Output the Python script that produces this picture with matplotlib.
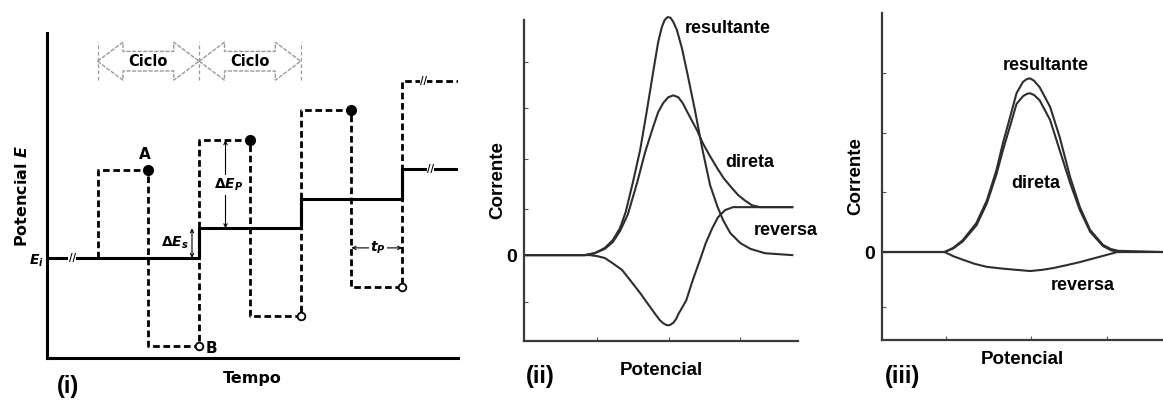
import matplotlib
matplotlib.use('Agg')
import matplotlib.pyplot as plt
from matplotlib.patches import Polygon

plt.rcParams['mathtext.fontset'] = 'custom'
plt.rcParams['mathtext.rm'] = 'DejaVu Sans:bold'
plt.rcParams['mathtext.it'] = 'DejaVu Sans:italic:bold'
plt.rcParams['mathtext.bf'] = 'DejaVu Sans:bold'

narrow = ['Liberation Sans Narrow', 'Liberation Sans', 'DejaVu Sans']

# (i) square-wave waveform: staircase + pulses (time in cycles, E in units of dEs)
stair_t = [0.0, 1.5, 2.5, 3.5, 4.05]
stair_E = [0.0, 1.0, 2.0, 3.0]
pulse_t = [0.5, 1.0, 1.5, 2.0, 2.5, 3.0, 3.5, 4.05]
pulse_E = [2.97, -2.97, 3.97, -1.97, 4.97, -0.97, 5.97]
fwd_dots_t = [1.0, 2.0, 3.0]
fwd_dots_E = [2.97, 3.97, 4.97]
rev_dots_t = [1.5, 2.5, 3.5]
rev_dots_E = [-2.97, -1.97, -0.97]
cycle_edges = [0.5, 1.5, 2.5]

# (ii) reversible system: forward, reverse and net currents
ii_res_x = [-2.01, -1.17, -1.03, -0.89, -0.78, -0.68, -0.60, -0.50, -0.40, -0.31,
            -0.22, -0.15, -0.10, -0.06, -0.02, 0.02, 0.06, 0.11, 0.18, 0.26,
            0.36, 0.46, 0.57, 0.67, 0.75, 0.85, 0.99, 1.13, 1.33, 1.71]
ii_res_y = [0.0, 0.0, 0.04, 0.15, 0.31, 0.56, 0.90, 1.52, 2.19, 2.98,
            3.81, 4.44, 4.75, 4.90, 4.96, 4.95, 4.86, 4.69, 4.31, 3.75,
            3.02, 2.23, 1.46, 1.02, 0.73, 0.46, 0.25, 0.13, 0.04, 0.0]
ii_dir_x = [-2.01, -1.17, -1.03, -0.89, -0.78, -0.68, -0.57, -0.44, -0.33, -0.22, -0.15, -0.08, -0.01,
            0.06, 0.13, 0.19, 0.29, 0.39, 0.47, 0.57, 0.67, 0.76, 0.86, 0.96, 1.06, 1.15, 1.26, 1.71]
ii_dir_y = [0.0, 0.0, 0.04, 0.13, 0.27, 0.50, 0.85, 1.52, 2.15, 2.67, 2.98, 3.17, 3.29,
            3.33, 3.29, 3.17, 2.88, 2.60, 2.33, 2.06, 1.81, 1.60, 1.42, 1.25, 1.13, 1.04, 1.00, 1.00]
ii_rev_x = [-2.01, -1.10, -1.00, -0.89, -0.78, -0.65, -0.54, -0.40, -0.31, -0.19,
            -0.13, -0.08, -0.03, 0.01, 0.06, 0.10, 0.13, 0.18, 0.24, 0.33,
            0.43, 0.51, 0.60, 0.68, 0.78, 0.89, 1.71]
ii_rev_y = [0.0, 0.0, -0.02, -0.06, -0.17, -0.31, -0.52, -0.79, -0.98, -1.23,
            -1.35, -1.42, -1.46, -1.46, -1.41, -1.33, -1.23, -1.10, -0.94, -0.52,
            -0.10, 0.25, 0.56, 0.79, 0.94, 1.00, 1.00]

# (iii) irreversible system
iii_res_x = [-1.86, -1.08, -0.97, -0.85, -0.68, -0.55, -0.43, -0.35, -0.26, -0.18,
             -0.10, -0.05, -0.01, 0.04, 0.11, 0.24, 0.36, 0.49, 0.61, 0.74,
             0.90, 1.00, 1.09, 1.65]
iii_res_y = [0.0, 0.0, 0.07, 0.20, 0.49, 0.87, 1.38, 1.83, 2.27, 2.67,
             2.86, 2.91, 2.92, 2.88, 2.77, 2.44, 1.93, 1.26, 0.76, 0.37,
             0.12, 0.05, 0.02, 0.0]
iii_dir_x = iii_res_x
iii_dir_y = [0.0, 0.0, 0.06, 0.18, 0.45, 0.82, 1.31, 1.71, 2.12, 2.49,
             2.62, 2.66, 2.67, 2.64, 2.55, 2.22, 1.71, 1.16, 0.71, 0.34,
             0.10, 0.03, 0.0, 0.0]
iii_rev_x = [-1.86, -1.08, -0.97, -0.85, -0.70, -0.55, -0.35, -0.18, -0.01, 0.14,
             0.28, 0.45, 0.61, 0.86, 1.08, 1.65]
iii_rev_y = [0.0, 0.0, -0.07, -0.13, -0.20, -0.25, -0.28, -0.30, -0.32, -0.30,
             -0.27, -0.22, -0.17, -0.08, 0.0, 0.0]

fig = plt.figure(figsize=(11.63, 4.01), dpi=100)

# ---------- (i) ----------
ax1 = fig.add_axes([0.0402, 0.1072, 0.3537, 0.8105])
ax1.set_xlim(0, 4.05)
ax1.set_ylim(-3.37, 7.58)
for s in ['top', 'right']:
    ax1.spines[s].set_visible(False)
for s in ['left', 'bottom']:
    ax1.spines[s].set_linewidth(2.2)
ax1.set_xticks([])
ax1.set_yticks([])

ax1.stairs(stair_E, stair_t, color='black', lw=2.2, baseline=None)
ax1.vlines(stair_t[1:-1], stair_E[:-1], stair_E[1:], color='black', lw=2.2)

dash_x = [pulse_t[0]] + pulse_t
dash_y = [stair_E[0]] + pulse_E + [pulse_E[-1]]
ax1.step(dash_x, dash_y, where='post', color='black', lw=2.0, dashes=(2.4, 1.3))
ax1.plot(fwd_dots_t, fwd_dots_E, 'o', color='black', ms=7, zorder=5)
ax1.plot(rev_dots_t, rev_dots_E, 'o', mfc='white', mec='black', mew=1.3, ms=5.5, zorder=5)

# break marks
for bx, by in [(0.25, 0.0), (3.78, 3.0), (3.71, 5.97)]:
    ax1.text(bx, by, '//', fontsize=7, fontweight='bold', ha='center', va='center',
             bbox=dict(fc='white', ec='none', pad=0.2), zorder=6)

# cycle arrows
c_mid, body, head, hl = 6.63, 0.33, 0.64, 0.25
for t0, t1 in zip(cycle_edges[:-1], cycle_edges[1:]):
    verts = [(t0, c_mid), (t0 + hl, c_mid + head), (t0 + hl, c_mid + body), (t1 - hl, c_mid + body),
             (t1 - hl, c_mid + head), (t1, c_mid), (t1 - hl, c_mid - head), (t1 - hl, c_mid - body),
             (t0 + hl, c_mid - body), (t0 + hl, c_mid - head)]
    ax1.add_patch(Polygon(verts, closed=True, fc='white', ec='#9a9a9a', lw=1.0, ls=(0, (3, 1))))
    ax1.text((t0 + t1) / 2, c_mid, 'Ciclo', fontsize=10.5, fontweight='bold', ha='center', va='center')
ax1.vlines(cycle_edges, 6.0, 7.27, color='#9a9a9a', lw=0.9, linestyles=(0, (3, 2)))

ax1.text(0.97, 3.47, 'A', fontsize=11, fontweight='bold', ha='center', va='center')
ax1.text(1.56, -3.05, 'B', fontsize=11, fontweight='bold', ha='left', va='center')
ax1.text(-0.03, -0.1, r'$E_i$', fontsize=10, ha='right', va='center', clip_on=False)

arrow_kw = dict(arrowstyle='<->', lw=0.8, color='black', shrinkA=0, shrinkB=0, mutation_scale=6)
ax1.annotate('', xy=(1.43, 0.0), xytext=(1.43, 1.0), arrowprops=arrow_kw)
ax1.text(1.26, 0.5, r'$\Delta E_s$', fontsize=10, ha='center', va='center')
ax1.annotate('', xy=(1.76, 1.0), xytext=(1.76, 3.97), arrowprops=arrow_kw)
ax1.text(1.79, 2.46, r'$\Delta E_P$', fontsize=10, ha='center', va='center',
         bbox=dict(fc='white', ec='none', pad=1.5))
ax1.annotate('', xy=(3.0, 0.34), xytext=(3.5, 0.34), arrowprops=arrow_kw)
ax1.text(3.26, 0.34, r'$t_P$', fontsize=10, ha='center', va='center',
         bbox=dict(fc='white', ec='none', pad=1.0))

ax1.set_xlabel('Tempo', fontsize=11.5, fontweight='bold', labelpad=9)
ax1.set_ylabel(r'Potencial $E$', fontsize=11.5, fontweight='bold', labelpad=12)
fig.text(0.0585, 0.035, '(i)', fontsize=17, fontweight='bold', family=narrow, ha='center', va='center')


def current_axes(rect, xlim, ylim, xticks, yticks, xpad, ypad):
    ax = fig.add_axes(rect)
    ax.set_xlim(*xlim)
    ax.set_ylim(*ylim)
    for s in ['top', 'right']:
        ax.spines[s].set_visible(False)
    for s in ['left', 'bottom']:
        ax.spines[s].set_linewidth(1.6)
        ax.spines[s].set_color('#3a3a3a')
    ax.set_xticks(xticks)
    ax.set_xticklabels([])
    ax.set_yticks(yticks)
    ax.set_yticklabels(['0' if abs(v) < 1e-9 else '' for v in yticks], fontsize=14,
                       fontweight='bold', family=narrow)
    ax.tick_params(direction='in', length=3, width=0.8, color='#555555', pad=5)
    ax.set_xlabel('Potencial', fontsize=13.5, fontweight='bold', family=narrow, labelpad=xpad)
    ax.set_ylabel('Corrente', fontsize=13.5, fontweight='bold', family=narrow, labelpad=ypad)
    return ax


line_kw = dict(color='#2e2e2e', lw=1.5, solid_joinstyle='round', clip_on=False)
lab_kw = dict(fontsize=13, fontweight='bold', family=narrow, va='center')

# ---------- (ii) ----------
ax2 = current_axes([0.4506, 0.1496, 0.2356, 0.8005], (-2.01, 1.79), (-1.79, 4.90),
                   [-1.0, 0.0, 0.99], [-0.98, 0, 0.96, 2.0, 3.06, 4.02], 10, 0)
ax2.plot(ii_res_x, ii_res_y, **line_kw)
ax2.plot(ii_dir_x, ii_dir_y, **line_kw)
ax2.plot(ii_rev_x, ii_rev_y, **line_kw)
ax2.text(0.22, 4.73, 'resultante', ha='left', **lab_kw)
ax2.text(0.78, 1.94, 'direta', ha='left', **lab_kw)
ax2.text(1.17, 0.52, 'reversa', ha='left', **lab_kw)
fig.text(0.4643, 0.06, '(ii)', fontsize=17, fontweight='bold', family=narrow, ha='center', va='center')

# ---------- (iii) ----------
ax3 = current_axes([0.7584, 0.1521, 0.2416, 0.8155], (-1.86, 1.65), (-1.48, 4.02),
                   [-1.06, 0.0, 0.95], [-0.93, 0, 1.01, 2.0, 3.01], 3, 0)
ax3.plot(iii_res_x, iii_res_y, **line_kw)
ax3.plot(iii_dir_x, iii_dir_y, **line_kw)
ax3.plot(iii_rev_x, iii_rev_y, **line_kw)
ax3.text(0.18, 3.14, 'resultante', ha='center', **lab_kw)
ax3.text(0.06, 1.16, 'direta', ha='center', **lab_kw)
ax3.text(0.65, -0.57, 'reversa', ha='center', **lab_kw)
fig.text(0.7764, 0.06, '(iii)', fontsize=17, fontweight='bold', family=narrow, ha='center', va='center')

fig.savefig('out.png', dpi=100, facecolor='white')
